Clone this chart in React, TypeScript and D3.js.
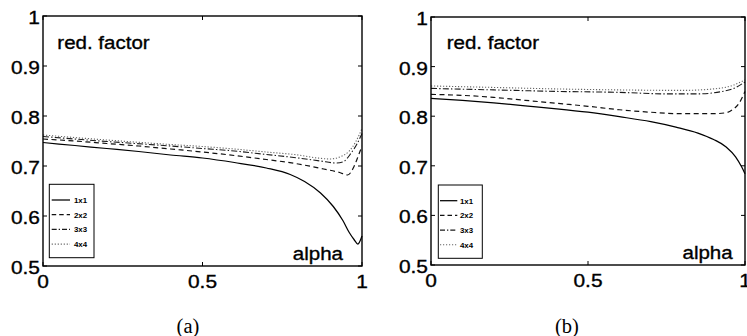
import React from "react";
import * as d3 from "d3";

// ---------- data ----------
const yTicks = [0.5, 0.6, 0.7, 0.8, 0.9, 1];
const yTickLabels = ["0.5", "0.6", "0.7", "0.8", "0.9", "1"];
const xTicks = [0, 0.5, 1];
const xTickLabels = ["0", "0.5", "1"];
const legendLabels = ["1x1", "2x2", "3x3", "4x4"];
const captions = ["(a)", "(b)"];
const yTitle = "red. factor";
const xTitle = "alpha";

// panel (a): [alpha, reduction factor]
const a1x1: [number, number][] = [
  [0, 0.747], [0.1, 0.741], [0.2, 0.735], [0.3, 0.729], [0.4, 0.722], [0.5, 0.716],
  [0.6, 0.707], [0.7, 0.696], [0.775, 0.683], [0.82, 0.669], [0.87, 0.646], [0.91, 0.619],
  [0.94, 0.591], [0.96, 0.567], [0.975, 0.553], [0.987, 0.544], [1.0, 0.56],
];
const a2x2: [number, number][] = [
  [0, 0.754], [0.1, 0.75], [0.2, 0.745], [0.3, 0.74], [0.4, 0.734], [0.5, 0.728],
  [0.6, 0.721], [0.7, 0.713], [0.8, 0.704], [0.88, 0.694], [0.93, 0.687], [0.955, 0.682],
  [0.975, 0.699], [0.99, 0.723], [1.0, 0.74],
];
const a3x3: [number, number][] = [
  [0, 0.759], [0.2, 0.749], [0.4, 0.74], [0.5, 0.735], [0.6, 0.73], [0.7, 0.723],
  [0.8, 0.716], [0.87, 0.71], [0.92, 0.706], [0.94, 0.708], [0.965, 0.725], [0.985, 0.745],
  [1.0, 0.765],
];
const a4x4: [number, number][] = [
  [0, 0.762], [0.2, 0.752], [0.4, 0.743], [0.5, 0.739], [0.6, 0.734], [0.7, 0.728],
  [0.8, 0.722], [0.86, 0.716], [0.9, 0.714], [0.93, 0.718], [0.96, 0.73], [0.98, 0.748],
  [1.0, 0.775],
];

// panel (b)
const b1x1: [number, number][] = [
  [0, 0.836], [0.1, 0.832], [0.2, 0.827], [0.3, 0.821], [0.4, 0.815], [0.5, 0.808],
  [0.6, 0.799], [0.7, 0.789], [0.78, 0.778], [0.85, 0.766], [0.9, 0.753], [0.94, 0.738],
  [0.97, 0.718], [0.99, 0.697], [1.0, 0.684],
];
const b2x2: [number, number][] = [
  [0, 0.844], [0.1, 0.842], [0.2, 0.838], [0.3, 0.832], [0.4, 0.826], [0.5, 0.82],
  [0.6, 0.813], [0.7, 0.808], [0.8, 0.805], [0.9, 0.805], [0.94, 0.807], [0.96, 0.813],
  [0.98, 0.825], [1.0, 0.85],
];
const b3x3: [number, number][] = [
  [0, 0.856], [0.2, 0.853], [0.4, 0.85], [0.6, 0.848], [0.75, 0.845], [0.85, 0.845],
  [0.92, 0.849], [0.96, 0.855], [1.0, 0.869],
];
const b4x4: [number, number][] = [
  [0, 0.861], [0.2, 0.858], [0.4, 0.855], [0.6, 0.853], [0.8, 0.852], [0.9, 0.855],
  [0.96, 0.862], [1.0, 0.873],
];

// ---------- styles / layout ----------
const seriesStyles = [
  { stroke: "#000", width: 1.25, dash: "none" },
  { stroke: "#111", width: 1.2, dash: "5,3.5" },
  { stroke: "#1a1a1a", width: 1.1, dash: "6,2.2,1.4,2.2" },
  { stroke: "#666", width: 1.1, dash: "1.2,1.8" },
];

const panels = [
  {
    series: [a1x1, a2x2, a3x3, a4x4],
    x0: 43, x1: 362, y0: 16, y1: 266,
    legend: { x: 49.3, y: 184.3, w: 44.7, h: 73.4, lx0: 51.7, lx1: 70, tx: 74 },
    titleX: 57.3, titleY: 49, alphaX: 343, alphaY: 260,
    captionX: 188,
  },
  {
    series: [b1x1, b2x2, b3x3, b4x4],
    x0: 431, x1: 745, y0: 17, y1: 265,
    legend: { x: 438.3, y: 185, w: 44, h: 73.3, lx0: 440, lx1: 457.3, tx: 460 },
    titleX: 446.7, titleY: 48.5, alphaX: 732.7, alphaY: 259,
    captionX: 567,
  },
];

const SANS = "'Liberation Sans', Arial, Helvetica, sans-serif";

function T({ x, y, anchor = "start", size = 19, sx = 1.1, children, weight = "normal", sw = 0.35 }: any) {
  return (
    <text
      transform={`translate(${x},${y}) scale(${sx},1)`}
      textAnchor={anchor}
      fontFamily={SANS}
      fontSize={size}
      fontWeight={weight}
      fill="#000"
      stroke="#000"
      strokeWidth={sw}
    >
      {children}
    </text>
  );
}

function Panel({ p, idx }: any) {
  const x = d3.scaleLinear().domain([0, 1]).range([p.x0, p.x1]);
  const y = d3.scaleLinear().domain([0.5, 1]).range([p.y1, p.y0]);
  const line = d3
    .line<[number, number]>()
    .x((d) => x(d[0]))
    .y((d) => y(d[1]))
    .curve(d3.curveMonotoneX);
  const tl = 4;
  const lg = p.legend;
  const rowY = (i: number) => lg.y + 15.7 + i * 14.7;
  return (
    <g>
      {p.series.map((s: [number, number][], i: number) => (
        <path
          key={i}
          d={line(s) || ""}
          fill="none"
          stroke={seriesStyles[i].stroke}
          strokeWidth={seriesStyles[i].width}
          strokeDasharray={seriesStyles[i].dash}
        />
      ))}
      {/* box */}
      <rect
        x={p.x0}
        y={p.y0}
        width={p.x1 - p.x0}
        height={p.y1 - p.y0}
        fill="none"
        stroke="#000"
        strokeWidth={1.4}
      />
      {/* ticks */}
      {yTicks.map((t) => (
        <g key={"y" + t}>
          <line x1={p.x0} x2={p.x0 + tl} y1={y(t)} y2={y(t)} stroke="#000" strokeWidth={1} />
          <line x1={p.x1} x2={p.x1 - tl} y1={y(t)} y2={y(t)} stroke="#000" strokeWidth={1} />
        </g>
      ))}
      {xTicks.map((t) => (
        <g key={"x" + t}>
          <line x1={x(t)} x2={x(t)} y1={p.y1} y2={p.y1 - tl} stroke="#000" strokeWidth={1} />
          <line x1={x(t)} x2={x(t)} y1={p.y0} y2={p.y0 + tl} stroke="#000" strokeWidth={1} />
        </g>
      ))}
      {/* tick labels */}
      {yTicks.map((t, i) => (
        <T key={"yl" + t} x={p.x0 - 3} y={y(t) + 8} anchor="end">
          {yTickLabels[i]}
        </T>
      ))}
      {xTicks.map((t, i) => (
        <T key={"xl" + t} x={x(t)} y={p.y1 + 21.5} anchor="middle">
          {xTickLabels[i]}
        </T>
      ))}
      {/* titles inside */}
      <T x={p.titleX} y={p.titleY} sx={1.08}>{yTitle}</T>
      <T x={p.alphaX} y={p.alphaY} anchor="end" sx={1.08}>{xTitle}</T>
      {/* legend */}
      <rect x={lg.x} y={lg.y} width={lg.w} height={lg.h} fill="#fff" stroke="#000" strokeWidth={1} />
      {legendLabels.map((lab, i) => (
        <g key={lab}>
          <line
            x1={lg.lx0}
            x2={lg.lx1}
            y1={rowY(i)}
            y2={rowY(i)}
            stroke={seriesStyles[i].stroke}
            strokeWidth={seriesStyles[i].width}
            strokeDasharray={i === 1 ? "4.5,3" : i === 2 ? "5,2,1.3,2" : seriesStyles[i].dash}
          />
          <T x={lg.tx} y={rowY(i) + 2.8} size={7.5} sx={1.05} weight="bold" sw={0}>
            {lab}
          </T>
        </g>
      ))}
      {/* caption */}
      <text
        x={p.captionX}
        y={332.5}
        textAnchor="middle"
        fontFamily="'Liberation Serif', 'DejaVu Serif', serif"
        fontSize={20.5}
        fill="#000"
      >
        {captions[idx]}
      </text>
    </g>
  );
}

export default function App() {
  return (
    <svg
      width={747}
      height={336}
      viewBox="0 0 747 336"
      style={{ position: "absolute", left: 0, top: 0, background: "#fff" }}
    >
      <rect x={0} y={0} width={747} height={336} fill="#fff" />
      {panels.map((p, i) => (
        <Panel key={i} p={p} idx={i} />
      ))}
    </svg>
  );
}
